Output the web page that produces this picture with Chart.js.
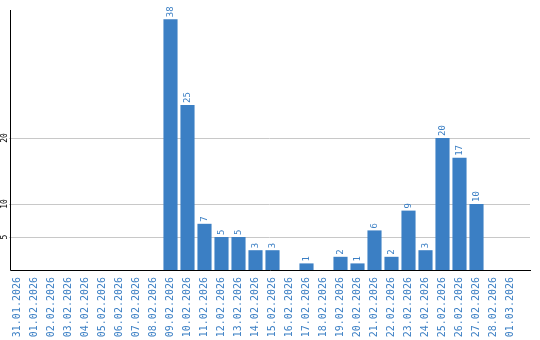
<!DOCTYPE html>
<html>
<head>
<meta charset="utf-8">
<script src="https://cdn.jsdelivr.net/npm/chart.js@4"></script>
<style>
  html, body { margin: 0; padding: 0; background: #fff; }
  #wrap { width: 540px; height: 340px; }
</style>
</head>
<body>
<div id="wrap"><canvas id="chart"></canvas></div>
<script>
// daily counts, 31.01.2026 - 01.03.2026
const days = [
  "31.01.2026", "01.02.2026", "02.02.2026", "03.02.2026", "04.02.2026",
  "05.02.2026", "06.02.2026", "07.02.2026", "08.02.2026", "09.02.2026",
  "10.02.2026", "11.02.2026", "12.02.2026", "13.02.2026", "14.02.2026",
  "15.02.2026", "16.02.2026", "17.02.2026", "18.02.2026", "19.02.2026",
  "20.02.2026", "21.02.2026", "22.02.2026", "23.02.2026", "24.02.2026",
  "25.02.2026", "26.02.2026", "27.02.2026", "28.02.2026", "01.03.2026"
];
const counts = [
  0, 0, 0, 0, 0, 0, 0, 0, 0, 38,
  25, 7, 5, 5, 3, 3, 0, 1, 0, 2,
  1, 6, 2, 9, 3, 20, 17, 10, 0, 0
];
const yTicks = [5, 10, 20];

const BLUE = "#3b7fc4";
const MONO = '"DejaVu Sans Mono", monospace';

// grid lines + y labels under the bars, axis lines + value labels on top
const guides = {
  id: "guides",
  beforeDatasetsDraw(chart) {
    const { ctx, chartArea: a } = chart;
    const y = chart.scales.y;
    ctx.save();
    ctx.strokeStyle = "#c8c8c8";
    ctx.lineWidth = 1;
    yTicks.forEach(v => {
      const py = Math.round(y.getPixelForValue(v)) + 0.5;
      ctx.beginPath();
      ctx.moveTo(a.left, py);
      ctx.lineTo(a.right + 11, py);
      ctx.stroke();
    });
    ctx.fillStyle = "#000";
    ctx.font = "8px " + MONO;
    ctx.textAlign = "center";
    ctx.textBaseline = "middle";
    yTicks.forEach(v => {
      ctx.save();
      ctx.translate(5, y.getPixelForValue(v));
      ctx.rotate(-Math.PI / 2);
      ctx.fillText(String(v), 0, 0);
      ctx.restore();
    });
    ctx.restore();
  },
  afterDatasetsDraw(chart) {
    const { ctx, chartArea: a } = chart;
    ctx.save();
    ctx.strokeStyle = "#000";
    ctx.lineWidth = 1;
    ctx.beginPath();
    ctx.moveTo(a.left + 1.5, a.top);
    ctx.lineTo(a.left + 1.5, a.bottom + 0.5);
    ctx.lineTo(a.right + 12, a.bottom + 0.5);
    ctx.stroke();

    ctx.fillStyle = BLUE;
    ctx.font = "9px " + MONO;
    ctx.textAlign = "left";
    ctx.textBaseline = "middle";
    chart.getDatasetMeta(0).data.forEach((bar, i) => {
      if (!counts[i]) return;
      ctx.save();
      ctx.translate(bar.x + 0.5, bar.y - 2);
      ctx.rotate(-Math.PI / 2);
      ctx.fillText(String(counts[i]), 0, 0);
      ctx.restore();
    });
    ctx.restore();
  }
};

new Chart(document.getElementById("chart"), {
  type: "bar",
  data: {
    labels: days,
    datasets: [{
      data: counts,
      backgroundColor: BLUE,
      borderWidth: 0,
      barPercentage: 0.83,
      categoryPercentage: 1
    }]
  },
  options: {
    responsive: true,
    maintainAspectRatio: false,
    animation: false,
    layout: { padding: { left: 9, top: 10, right: 21, bottom: 0 } },
    plugins: { legend: { display: false }, tooltip: { enabled: false } },
    scales: {
      x: {
        grid: { display: false, drawTicks: false },
        border: { display: false },
        ticks: {
          color: BLUE,
          font: { family: MONO, size: 10 },
          minRotation: 90,
          maxRotation: 90,
          autoSkip: false,
          padding: 7
        },
        afterFit: s => { s.height = 70; }
      },
      y: {
        display: false,
        min: 0,
        max: 39.4
      }
    }
  },
  plugins: [guides]
});
</script>
</body>
</html>
